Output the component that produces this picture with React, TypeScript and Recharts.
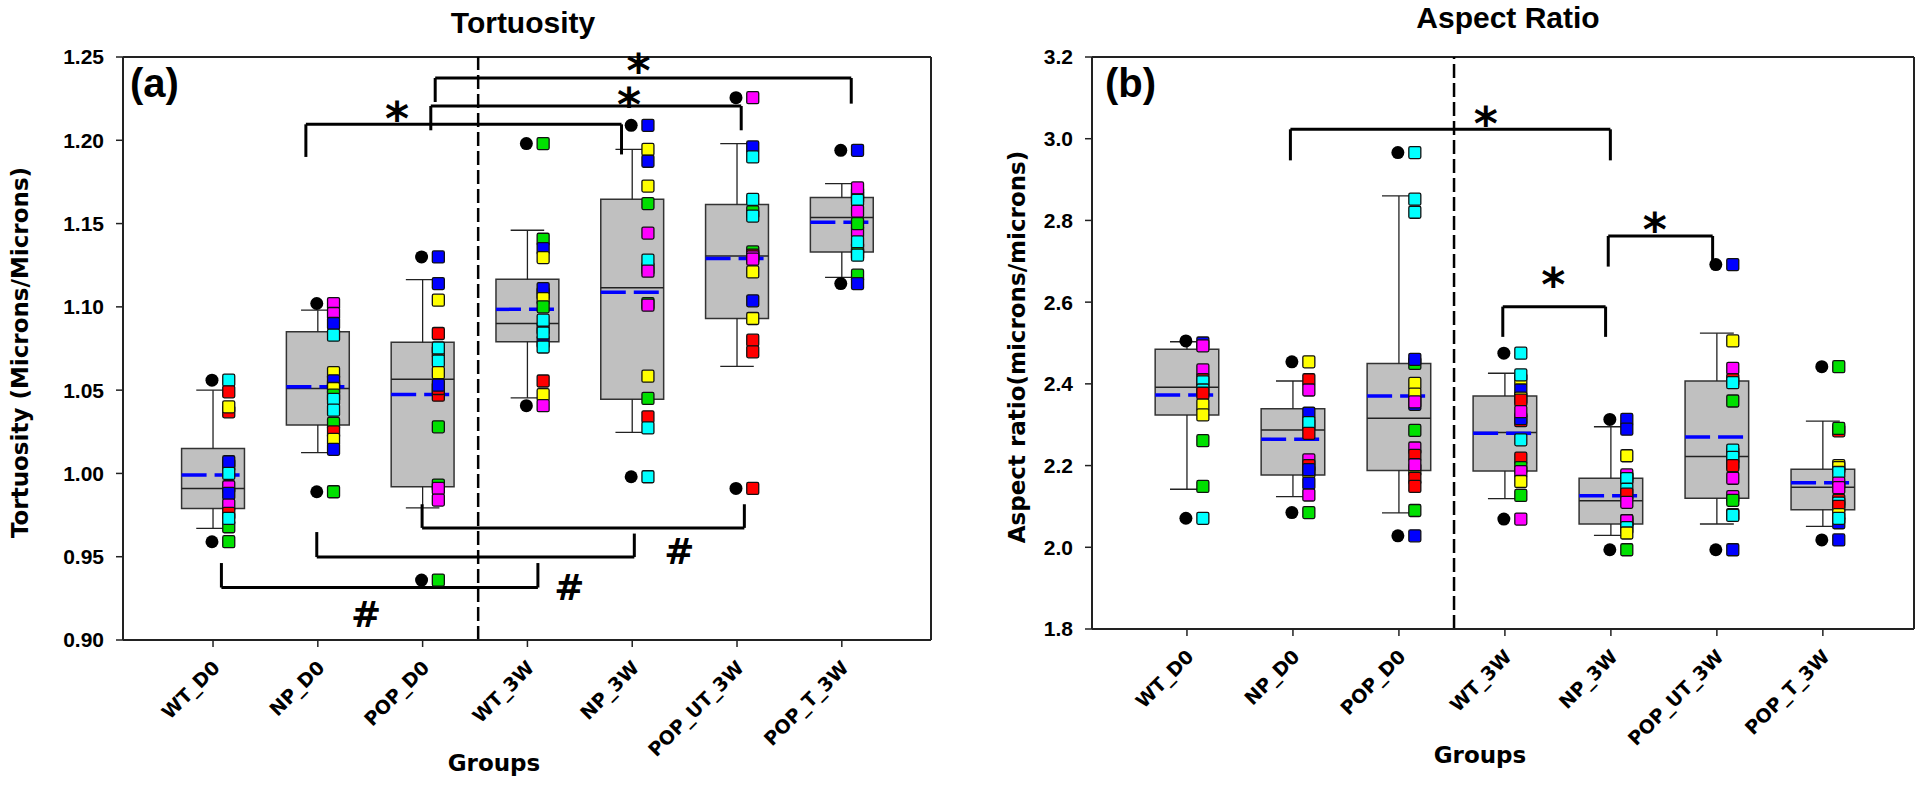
import React from 'react';
import { ComposedChart, Scatter, XAxis, YAxis, ReferenceArea, ReferenceLine, ReferenceDot } from 'recharts';

const groups = ['WT_D0', 'NP_D0', 'POP_D0', 'WT_3W', 'NP_3W', 'POP_UT_3W', 'POP_T_3W'];
const groupTicks = [1, 2, 3, 4, 5, 6, 7];

const colors: Record<string, string> = {
  r: '#ff0000', g: '#00e000', b: '#0000ff', y: '#ffff00', m: '#ff00ff', c: '#00ffff',
};

// ---- (a) Tortuosity ----
const tortQ1 = [0.979, 1.029, 0.992, 1.079, 1.0445, 1.093, 1.133];
const tortMedian = [0.991, 1.051, 1.0565, 1.09, 1.1115, 1.1306, 1.1536];
const tortQ3 = [1.015, 1.085, 1.0787, 1.1165, 1.1646, 1.1614, 1.1656];
const tortLow = [0.967, 1.0125, 0.9793, 1.0454, 1.0246, 1.0643, 1.1177];
const tortHigh = [1.05, 1.098, 1.1164, 1.146, 1.1946, 1.198, 1.174];
const tortMean = [0.999, 1.052, 1.0474, 1.0985, 1.1087, 1.129, 1.1508];
const tortOutliers = [[1.056, 0.959], [1.102, 0.989], [1.13, 0.936], [1.198, 1.0407], [1.209, 0.998], [1.2256, 0.991], [1.194, 1.114]];
const tortPoints: [number, string][][] = [
  [[1.056, 'c'], [1.049, 'r'], [1.037, 'r'], [1.04, 'y'], [1.005, 'g'], [1.007, 'b'], [1.0, 'c'], [0.992, 'm'], [0.988, 'b'], [0.981, 'm'], [0.976, 'r'], [0.968, 'g'], [0.973, 'c'], [0.959, 'g']],
  [[1.102, 'm'], [1.096, 'm'], [1.09, 'b'], [1.083, 'c'], [1.0605, 'y'], [1.053, 'r'], [1.0556, 'b'], [1.051, 'y'], [1.047, 'g'], [1.0445, 'c'], [1.038, 'c'], [1.03, 'g'], [1.025, 'r'], [1.0204, 'y'], [1.0145, 'b'], [0.989, 'g']],
  [[1.13, 'b'], [1.114, 'b'], [1.104, 'y'], [1.084, 'r'], [1.073, 'y'], [1.0753, 'c'], [1.0675, 'c'], [1.0605, 'y'], [1.047, 'r'], [1.051, 'r'], [1.053, 'b'], [1.028, 'g'], [0.993, 'g'], [0.991, 'm'], [0.984, 'm'], [0.936, 'g']],
  [[1.198, 'g'], [1.1406, 'g'], [1.135, 'b'], [1.1296, 'y'], [1.108, 'r'], [1.111, 'b'], [1.105, 'y'], [1.1, 'g'], [1.087, 'r'], [1.079, 'b'], [1.092, 'c'], [1.0843, 'c'], [1.0759, 'c'], [1.0555, 'r'], [1.0473, 'y'], [1.0407, 'm']],
  [[1.209, 'b'], [1.1945, 'y'], [1.1874, 'b'], [1.1725, 'y'], [1.162, 'g'], [1.1443, 'm'], [1.123, 'r'], [1.128, 'c'], [1.1214, 'm'], [1.102, 'g'], [1.101, 'm'], [1.0584, 'y'], [1.045, 'g'], [1.034, 'r'], [1.0273, 'c'], [0.998, 'c']],
  [[1.2256, 'm'], [1.196, 'b'], [1.19, 'c'], [1.157, 'g'], [1.1645, 'c'], [1.1545, 'c'], [1.133, 'g'], [1.131, 'r'], [1.13, 'm'], [1.1286, 'm'], [1.121, 'y'], [1.1036, 'b'], [1.093, 'y'], [1.08, 'r'], [1.073, 'r'], [0.991, 'r']],
  [[1.194, 'b'], [1.166, 'r'], [1.168, 'y'], [1.1714, 'm'], [1.164, 'c'], [1.1574, 'm'], [1.145, 'm'], [1.15, 'g'], [1.135, 'r'], [1.139, 'c'], [1.132, 'g'], [1.131, 'c'], [1.119, 'g'], [1.114, 'b']],
];
// brackets: [from group, to group, bar level, left end, right end]
const tortStarBrackets = [[1.886, 4.898, 1.2096, 1.19, 1.1915], [3.078, 6.04, 1.2206, 1.206, 1.206], [3.12, 7.09, 1.2374, 1.223, 1.222]];
const tortStars = [[2.756, 1.2176], [4.97, 1.226], [5.06, 1.2466]];
const tortHashBrackets = [[1.08, 4.1, 0.9315, 0.9462, 0.9462], [1.99, 5.02, 0.9498, 0.9648, 0.9639], [2.995, 6.07, 0.9673, 0.9815, 0.9815]];
const tortHashes = [[2.46, 0.9154], [4.4, 0.9315], [5.45, 0.9534]];
const tortYTicks = [0.9, 0.95, 1.0, 1.05, 1.1, 1.15, 1.2, 1.25];

// ---- (b) Aspect ratio ----
const arQ1 = [2.324, 2.177, 2.188, 2.187, 2.057, 2.12, 2.092];
const arMedian = [2.392, 2.287, 2.316, 2.281, 2.114, 2.222, 2.147];
const arQ3 = [2.4846, 2.339, 2.45, 2.37, 2.169, 2.407, 2.191];
const arLow = [2.142, 2.124, 2.084, 2.119, 2.029, 2.057, 2.051];
const arHigh = [2.503, 2.407, 2.86, 2.426, 2.295, 2.524, 2.309];
const arMean = [2.373, 2.2645, 2.37, 2.279, 2.126, 2.27, 2.158];
const arOutliers = [[2.505, 2.071], [2.454, 2.085], [2.966, 2.028], [2.475, 2.069], [2.313, 1.994], [2.692, 1.994], [2.442, 2.018]];
const arPoints: [number, string][][] = [
  [[2.5, 'b'], [2.493, 'm'], [2.434, 'm'], [2.41, 'r'], [2.405, 'c'], [2.385, 'c'], [2.377, 'r'], [2.348, 'y'], [2.324, 'y'], [2.261, 'g'], [2.149, 'g'], [2.071, 'c']],
  [[2.454, 'y'], [2.41, 'r'], [2.385, 'm'], [2.328, 'b'], [2.3, 'g'], [2.305, 'c'], [2.279, 'r'], [2.214, 'm'], [2.2, 'r'], [2.185, 'y'], [2.19, 'b'], [2.157, 'b'], [2.128, 'm'], [2.085, 'g']],
  [[2.966, 'c'], [2.852, 'c'], [2.82, 'c'], [2.45, 'g'], [2.46, 'b'], [2.401, 'y'], [2.375, 'y'], [2.35, 'b'], [2.356, 'm'], [2.286, 'g'], [2.243, 'm'], [2.225, 'r'], [2.19, 'y'], [2.202, 'm'], [2.169, 'r'], [2.149, 'r'], [2.09, 'g'], [2.028, 'b']],
  [[2.475, 'c'], [2.41, 'y'], [2.422, 'c'], [2.385, 'b'], [2.365, 'y'], [2.36, 'r'], [2.31, 'r'], [2.315, 'b'], [2.332, 'm'], [2.263, 'c'], [2.218, 'r'], [2.195, 'g'], [2.185, 'm'], [2.161, 'y'], [2.127, 'g'], [2.069, 'm']],
  [[2.313, 'b'], [2.289, 'b'], [2.224, 'y'], [2.17, 'r'], [2.177, 'm'], [2.168, 'c'], [2.142, 'c'], [2.13, 'r'], [2.11, 'm'], [2.065, 'r'], [2.06, 'g'], [2.065, 'm'], [2.048, 'c'], [2.035, 'y'], [1.994, 'g']],
  [[2.692, 'b'], [2.505, 'y'], [2.438, 'm'], [2.41, 'r'], [2.403, 'c'], [2.358, 'g'], [2.23, 'r'], [2.238, 'c'], [2.205, 'b'], [2.22, 'c'], [2.2, 'r'], [2.169, 'm'], [2.124, 'm'], [2.115, 'g'], [2.08, 'r'], [2.078, 'c'], [1.994, 'b']],
  [[2.442, 'g'], [2.285, 'r'], [2.291, 'g'], [2.2, 'y'], [2.195, 'y'], [2.183, 'c'], [2.157, 'm'], [2.146, 'm'], [2.115, 'r'], [2.108, 'c'], [2.1, 'r'], [2.08, 'y'], [2.06, 'b'], [2.071, 'c'], [2.018, 'b']],
];
const arStarBrackets = [[1.976, 4.995, 3.023, 2.947, 2.947], [3.98, 4.95, 2.589, 2.515, 2.515], [4.975, 5.96, 2.762, 2.687, 2.699]];
const arStars = [[3.82, 3.056], [4.456, 2.661], [5.415, 2.795]];
const arYTicks = [1.8, 2.0, 2.2, 2.4, 2.6, 2.8, 3.0, 3.2];

const LINE = '#222';
const BOLD_SANS = '"DejaVu Sans", Verdana, sans-serif';
const ARIAL = '"Liberation Sans", Arial, sans-serif';

const Square = (props: any) => {
  const { cx, cy, payload } = props;
  if (cx == null || cy == null) return null;
  return <rect x={cx - 6} y={cy - 6} width={12} height={12} rx={1.5} fill={payload.color} stroke="#111" strokeWidth={1.3} />;
};

const BlackDot = (props: any) => {
  const { cx, cy } = props;
  if (cx == null || cy == null) return null;
  return <circle cx={cx} cy={cy} r={6.5} fill="#000" />;
};

const XTick = (props: any) => {
  const { x, y, payload } = props;
  const ax = x + 8;
  const ay = y + 22;
  return (
    <text x={ax} y={ay} transform={`rotate(-45 ${ax} ${ay})`} textAnchor="end"
      fontFamily={BOLD_SANS} fontWeight="bold" fontSize={19} fill="#000">
      {groups[payload.value - 1]}
    </text>
  );
};

const markText = (sym: string, size: number, lift: number) => (p: any) => (
  <text x={p.cx} y={p.cy + lift * size} textAnchor="middle" fontFamily={BOLD_SANS}
    fontWeight="bold" fontSize={size} fill="#000">{sym}</text>
);

interface PanelProps {
  q1: number[]; median: number[]; q3: number[]; low: number[]; high: number[]; mean: number[];
  outliers: number[][]; points: [number, string][][];
  starBrackets: number[][]; stars: number[][];
  hashBrackets: number[][]; hashes: number[][];
  yDomain: [number, number]; yTicks: number[]; digits: number;
  xDomain: [number, number]; divider: number;
  width: number; yAxisWidth: number; xAxisHeight: number; right: number;
  yLabel: string; yLabelX: number; groupsDx: number; groupsDy: number;
}

const Panel: React.FC<PanelProps> = (p) => {
  const squares = p.points.flatMap((pts, i) =>
    pts.map(([v, c]) => ({ x: i + 1 + 0.15, y: v, color: colors[c] })));
  const dots = p.outliers.flatMap((vals, i) => vals.map((v) => ({ x: i + 1 - 0.01, y: v })));

  const boxes: React.ReactNode[] = [];
  groupTicks.forEach((g, i) => {
    boxes.push(
      <ReferenceLine key={`wh${i}`} segment={[{ x: g, y: p.q3[i] }, { x: g, y: p.high[i] }]} stroke={LINE} strokeWidth={1.3} />,
      <ReferenceLine key={`wl${i}`} segment={[{ x: g, y: p.low[i] }, { x: g, y: p.q1[i] }]} stroke={LINE} strokeWidth={1.3} />,
      <ReferenceLine key={`ch${i}`} segment={[{ x: g - 0.16, y: p.high[i] }, { x: g + 0.16, y: p.high[i] }]} stroke={LINE} strokeWidth={1.3} />,
      <ReferenceLine key={`cl${i}`} segment={[{ x: g - 0.16, y: p.low[i] }, { x: g + 0.16, y: p.low[i] }]} stroke={LINE} strokeWidth={1.3} />,
      <ReferenceArea key={`bx${i}`} x1={g - 0.3} x2={g + 0.3} y1={p.q1[i]} y2={p.q3[i]} fill="#c0c0c0" fillOpacity={1} stroke="#333" strokeWidth={1.5} />,
      <ReferenceLine key={`md${i}`} segment={[{ x: g - 0.3, y: p.median[i] }, { x: g + 0.3, y: p.median[i] }]} stroke="#222" strokeWidth={1.5} />,
      <ReferenceLine key={`mn${i}`} segment={[{ x: g - 0.3, y: p.mean[i] }, { x: g + 0.3, y: p.mean[i] }]} stroke="#0000ff" strokeWidth={3.5} strokeDasharray="25 8" />,
    );
  });

  const brackets: React.ReactNode[] = [];
  [...p.starBrackets, ...p.hashBrackets].forEach(([x1, x2, lvl, e1, e2], i) => {
    brackets.push(
      <ReferenceLine key={`bh${i}`} segment={[{ x: x1, y: lvl }, { x: x2, y: lvl }]} stroke="#000" strokeWidth={3} />,
      <ReferenceLine key={`bl${i}`} segment={[{ x: x1, y: lvl }, { x: x1, y: e1 }]} stroke="#000" strokeWidth={3} />,
      <ReferenceLine key={`br${i}`} segment={[{ x: x2, y: lvl }, { x: x2, y: e2 }]} stroke="#000" strokeWidth={3} />,
    );
  });

  return (
    <ComposedChart width={p.width} height={785} margin={{ top: 57, right: p.right, bottom: 5, left: 0 }}>
      <XAxis dataKey="x" type="number" domain={p.xDomain} ticks={groupTicks} allowDataOverflow interval={0}
        tick={<XTick />} tickSize={7} tickMargin={0} height={p.xAxisHeight}
        axisLine={{ stroke: LINE, strokeWidth: 2 }} tickLine={{ stroke: LINE, strokeWidth: 1.5 }}
        label={(lp: any) => {
          const vb = lp.viewBox;
          return (
            <text x={vb.x + vb.width / 2 + p.groupsDx} y={vb.y + p.groupsDy} textAnchor="middle"
              fontFamily={BOLD_SANS} fontWeight="bold" fontSize={23} fill="#000">Groups</text>
          );
        }} />
      <YAxis type="number" domain={p.yDomain} ticks={p.yTicks} allowDataOverflow interval={0}
        width={p.yAxisWidth} tickSize={7} tickMargin={12}
        tickFormatter={(v: number) => v.toFixed(p.digits)}
        tick={{ fill: '#000', fontSize: 21, fontWeight: 'bold', fontFamily: ARIAL }}
        axisLine={{ stroke: LINE, strokeWidth: 2 }} tickLine={{ stroke: LINE, strokeWidth: 1.5 }}
        label={(lp: any) => {
          const vb = lp.viewBox;
          const cx = vb.x + p.yLabelX;
          const cy = vb.y + vb.height / 2 + 4;
          return (
            <text x={cx} y={cy} transform={`rotate(-90 ${cx} ${cy})`} textAnchor="middle" dominantBaseline="central"
              fontFamily={BOLD_SANS} fontWeight="bold" fontSize={23} fill="#000">{p.yLabel}</text>
          );
        }} />
      {boxes}
      <ReferenceLine y={p.yDomain[1]} stroke={LINE} strokeWidth={2} />
      <ReferenceLine x={p.xDomain[1]} stroke={LINE} strokeWidth={2} />
      <ReferenceLine x={p.divider} stroke="#000" strokeWidth={2.5} strokeDasharray="14 5" />
      {brackets}
      {p.stars.map(([sx, sy], i) => (
        <ReferenceDot key={`st${i}`} x={sx} y={sy} r={0} shape={markText('*', 46, 0.52)} />
      ))}
      {p.hashes.map(([sx, sy], i) => (
        <ReferenceDot key={`hs${i}`} x={sx} y={sy} r={0} shape={markText('#', 36, 0.36)} />
      ))}
      <Scatter data={dots} dataKey="y" isAnimationActive={false} shape={BlackDot} />
      <Scatter data={squares} dataKey="y" isAnimationActive={false} shape={Square} />
    </ComposedChart>
  );
};

const App: React.FC = () => {
  return (
    <div style={{ position: 'fixed', left: 0, top: 0, width: 1920, height: 785, background: '#fff' }}>
      <div style={{ position: 'absolute', left: 0, top: 0 }}>
        <Panel q1={tortQ1} median={tortMedian} q3={tortQ3} low={tortLow} high={tortHigh} mean={tortMean}
          outliers={tortOutliers} points={tortPoints}
          starBrackets={tortStarBrackets} stars={tortStars} hashBrackets={tortHashBrackets} hashes={tortHashes}
          yDomain={[0.9, 1.25]} yTicks={tortYTicks} digits={2} xDomain={[0.141, 7.851]} divider={3.53}
          width={960} yAxisWidth={123} xAxisHeight={140} right={29}
          yLabel="Tortuosity (Microns/Microns)" yLabelX={20} groupsDx={-33} groupsDy={131} />
      </div>
      <div style={{ position: 'absolute', left: 960, top: 0 }}>
        <Panel q1={arQ1} median={arMedian} q3={arQ3} low={arLow} high={arHigh} mean={arMean}
          outliers={arOutliers} points={arPoints}
          starBrackets={arStarBrackets} stars={arStars} hashBrackets={[]} hashes={[]}
          yDomain={[1.8, 3.2]} yTicks={arYTicks} digits={1} xDomain={[0.104, 7.86]} divider={3.52}
          width={960} yAxisWidth={132} xAxisHeight={151} right={6}
          yLabel="Aspect ratio(microns/microns)" yLabelX={57} groupsDx={-23} groupsDy={134} />
      </div>
      <svg width={1920} height={785} style={{ position: 'absolute', left: 0, top: 0, pointerEvents: 'none' }}>
        <text x={523} y={33} textAnchor="middle" fontFamily={ARIAL} fontWeight="bold" fontSize={30}>Tortuosity</text>
        <text x={1508} y={28} textAnchor="middle" fontFamily={ARIAL} fontWeight="bold" fontSize={30}>Aspect Ratio</text>
        <text x={130} y={97} fontFamily={ARIAL} fontWeight="bold" fontSize={40}>(a)</text>
        <text x={1105} y={97} fontFamily={ARIAL} fontWeight="bold" fontSize={40}>(b)</text>
      </svg>
    </div>
  );
};

export default App;
